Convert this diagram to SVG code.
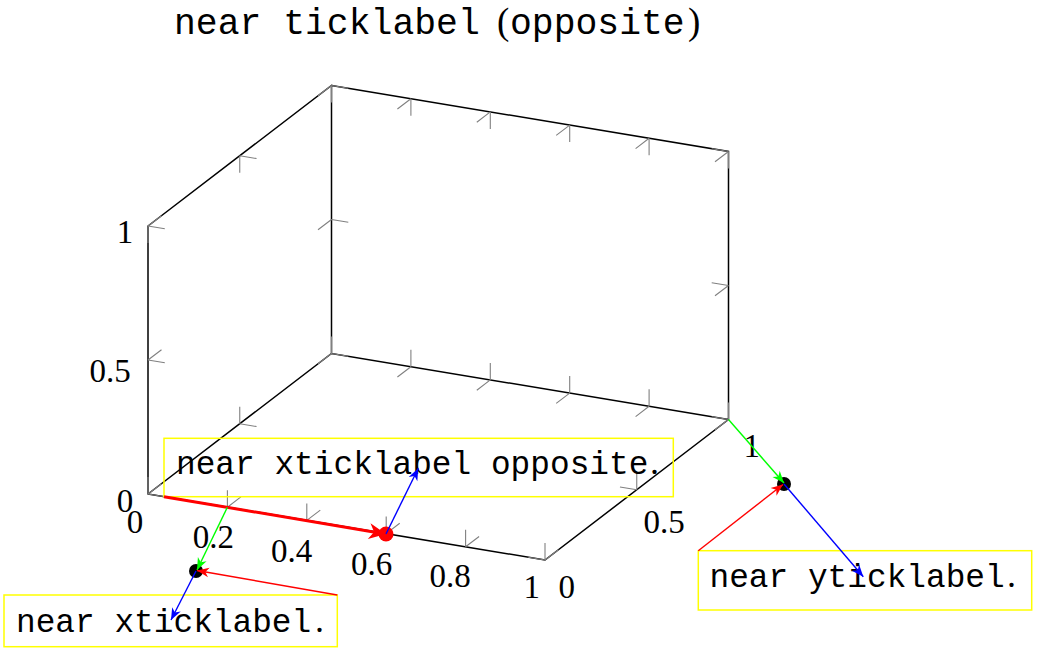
<svg xmlns="http://www.w3.org/2000/svg" width="1037" height="652" viewBox="0 0 1037 652">
<style>
.ax{stroke:#000;stroke-width:1.5;fill:none;stroke-linecap:round}
.tk{stroke:#808080;stroke-width:1.1;fill:none}
.tl{font-family:"Liberation Serif",serif;font-size:33px;text-anchor:middle;fill:#000}
.tt{font-family:"Liberation Mono",monospace;font-size:32.8px;fill:#000}
.pd{font-family:"Liberation Serif",serif;font-size:36px}
.box{fill:none;stroke:#ffff00;stroke-width:1.5}
.ar{fill:none;stroke-width:1.4}
</style>
<defs>
<marker id="mg" markerUnits="userSpaceOnUse" viewBox="-14 -7 16 14" markerWidth="16" markerHeight="14" refX="0" refY="0" orient="auto"><path d="M0,0 L-12,-4.8 L-8.5,0 L-12,4.8 Z" fill="#00ff00"/></marker>
<marker id="mr" markerUnits="userSpaceOnUse" viewBox="-14 -7 16 14" markerWidth="16" markerHeight="14" refX="0" refY="0" orient="auto"><path d="M0,0 L-12,-4.8 L-8.5,0 L-12,4.8 Z" fill="#ff0000"/></marker>
<marker id="mb" markerUnits="userSpaceOnUse" viewBox="-14 -7 16 14" markerWidth="16" markerHeight="14" refX="0" refY="0" orient="auto"><path d="M0,0 L-12,-4.8 L-8.5,0 L-12,4.8 Z" fill="#0000ff"/></marker>
<marker id="mR" markerUnits="userSpaceOnUse" viewBox="-19 -9 21 18" markerWidth="21" markerHeight="18" refX="-5" refY="0" orient="auto"><path d="M0,0 L-17,-8 L-12,0 L-17,8 Z" fill="#ff0000"/></marker>
</defs>

<g id="title">
<text y="34" font-family="Liberation Mono,monospace" font-size="36.4px"><tspan x="174">near ticklabel</tspan><tspan x="497" font-family="Liberation Serif,serif" font-size="37px">(</tspan><tspan x="510">opposite</tspan><tspan x="688" font-family="Liberation Serif,serif" font-size="37px">)</tspan></text>
</g>

<g id="axes">
<path class="ax" d="M148,494 L545,560 L728.5,419.5 M148,494 L148,226 L331.5,85.5 L331.5,353.5 M148,494 L331.5,353.5 L728.5,419.5 M331.5,85.5 L728.5,151.5 L728.5,419.5"/>
</g>

<g id="ticks">
<path class="tk" d="
M148,494 v-17 M148,494 l13.5,-10.3
M227.4,507.2 v-17 M227.4,507.2 l13.5,-10.3
M306.8,520.4 v-17 M306.8,520.4 l13.5,-10.3
M386.2,533.6 v-17 M386.2,533.6 l13.5,-10.3
M465.6,546.8 v-17 M465.6,546.8 l13.5,-10.3
M545,560 v-17 M545,560 l13.5,-10.3
M331.5,353.5 v-17 M331.5,353.5 l-13.5,10.3
M410.9,366.7 v-17 M410.9,366.7 l-13.5,10.3
M490.3,379.9 v-17 M490.3,379.9 l-13.5,10.3
M569.7,393.1 v-17 M569.7,393.1 l-13.5,10.3
M649.1,406.3 v-17 M649.1,406.3 l-13.5,10.3
M728.5,419.5 v-17 M728.5,419.5 l-13.5,10.3
M331.5,85.5 v17 M331.5,85.5 l-13.5,10.3
M410.9,98.7 v17 M410.9,98.7 l-13.5,10.3
M490.3,111.9 v17 M490.3,111.9 l-13.5,10.3
M569.7,125.1 v17 M569.7,125.1 l-13.5,10.3
M649.1,138.3 v17 M649.1,138.3 l-13.5,10.3
M728.5,151.5 v17 M728.5,151.5 l-13.5,10.3
M148,494 l16.8,2.8 M239.75,423.75 v-17 M239.75,423.75 l16.8,2.8 M331.5,353.5 l16.8,2.8
M545,560 l-16.8,-2.8 M636.75,489.75 v-17 M636.75,489.75 l-16.8,-2.8 M728.5,419.5 l-16.8,-2.8
M148,226 v17 M148,226 l16.8,2.8 M239.75,155.75 v17 M239.75,155.75 l16.8,2.8 M331.5,85.5 l16.8,2.8
M148,360 l16.8,2.8 M148,360 l13.5,-10.3 M148,226 l13.5,-10.3
M331.5,219.5 l16.8,2.8 M331.5,219.5 l-13.5,10.3
M728.5,285.5 l-16.8,-2.8 M728.5,285.5 l-13.5,10.3 M728.5,151.5 l-16.8,-2.8
"/>
</g>

<g id="ticklabels">
<text class="tl" x="135" y="533">0</text>
<text class="tl" x="213.3" y="548">0.2</text>
<text class="tl" x="291.7" y="561.5">0.4</text>
<text class="tl" x="371.7" y="575">0.6</text>
<text class="tl" x="450" y="586.5">0.8</text>
<text class="tl" x="531.7" y="598">1</text>
<text class="tl" x="566.7" y="598">0</text>
<text class="tl" x="664" y="533">0.5</text>
<text class="tl" x="751.7" y="456.5">1</text>
<text class="tl" x="125" y="511.5">0</text>
<text class="tl" x="110" y="381.7">0.5</text>
<text class="tl" x="125" y="243.3">1</text>
</g>

<g id="node-opposite">
<rect class="box" x="164" y="438.3" width="509.3" height="58.4"/>
<text class="tt" x="176" y="474.3">near xticklabel opposite<tspan class="pd" x="650">.</tspan></text>
</g>

<g id="node-xticklabel">
<rect class="box" x="4" y="595" width="333.3" height="51.7"/>
<text class="tt" x="16" y="631.7">near xticklabel<tspan class="pd" x="315">.</tspan></text>
</g>

<g id="node-yticklabel">
<rect class="box" x="698.3" y="550.7" width="333.4" height="59.3"/>
<text class="tt" x="709.5" y="586.7">near yticklabel<tspan class="pd" x="1007">.</tspan></text>
</g>

<g id="points">
<circle cx="196" cy="571" r="7" fill="#000"/>
<circle cx="386" cy="534" r="7.5" fill="#ff0000"/>
<circle cx="784" cy="484" r="7" fill="#000"/>
</g>

<g id="connectors">
<line x1="164" y1="496.7" x2="381" y2="533.2" stroke="#ff0000" stroke-width="3" marker-end="url(#mR)"/>
<line class="ar" x1="227.4" y1="507.2" x2="197" y2="570" stroke="#00ff00" marker-end="url(#mg)"/>
<line class="ar" x1="337.3" y1="595" x2="197" y2="570.5" stroke="#ff0000" marker-end="url(#mr)"/>
<line class="ar" x1="196" y1="571" x2="171" y2="620" stroke="#0000ff" marker-end="url(#mb)"/>
<line class="ar" x1="386" y1="534" x2="418.3" y2="468.3" stroke="#0000ff" marker-end="url(#mb)"/>
<line class="ar" x1="728.5" y1="419.5" x2="784" y2="483" stroke="#00ff00" marker-end="url(#mg)"/>
<line class="ar" x1="698.3" y1="550.7" x2="783" y2="484.5" stroke="#ff0000" marker-end="url(#mr)"/>
<line class="ar" x1="784" y1="484" x2="863.3" y2="576.7" stroke="#0000ff" marker-end="url(#mb)"/>
</g>
</svg>
